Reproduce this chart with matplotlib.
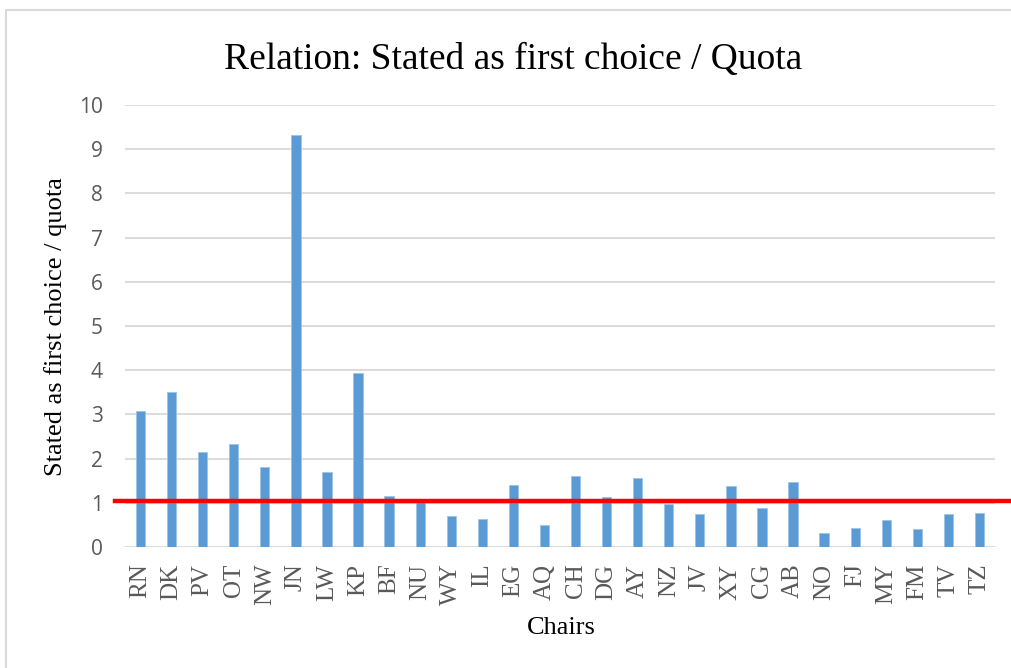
import matplotlib
matplotlib.use("Agg")
import matplotlib.pyplot as plt
from matplotlib.patches import Rectangle

chairs = ["RN", "DK", "PV", "OT", "NW", "JN", "LW", "KP", "BF", "NU", "WY", "IL",
          "EG", "AQ", "CH", "DG", "AY", "NZ", "JV", "XY", "CG", "AB", "NO", "FJ",
          "MY", "FM", "TV", "TZ"]
ratio = [3.08, 3.51, 2.16, 2.33, 1.82, 9.33, 1.69, 3.94, 1.15, 1.01, 0.71, 0.64,
         1.41, 0.50, 1.61, 1.12, 1.55, 0.97, 0.75, 1.37, 0.89, 1.48, 0.32, 0.42,
         0.60, 0.40, 0.75, 0.78]
threshold = 1.05
y_ticks = list(range(0, 11))

BAR_COLOR = "#5b9bd5"
GRID_COLOR = "#d9d9d9"
SERIF = ["Liberation Serif", "DejaVu Serif"]
SANS = ["Open Sans", "Liberation Sans", "DejaVu Sans"]

W, H = 1011, 668
fig = plt.figure(figsize=(W / 100, H / 100), dpi=100)
ax = fig.add_axes([125 / W, 1 - 547 / H, 870 / W, (547 - 105) / H])

positions = range(len(chairs))
ax.bar(positions, ratio, width=0.3, color=BAR_COLOR, edgecolor="#9dc3e6",
       linewidth=0.6, zorder=2)
ax.set_xlim(-0.5, len(chairs) - 0.5)
ax.set_ylim(0, 10)
ax.set_yticks(y_ticks)
ax.set_yticklabels([str(t) for t in y_ticks], family=SANS, fontsize=15,
                   color="#595959")
ax.set_xticks(list(positions))
ax.set_xticklabels(chairs, rotation=90, family=SERIF, fontsize=18,
                   color="#595959")
ax.tick_params(axis="y", length=0, pad=16)
ax.tick_params(axis="x", length=0, pad=12)
ax.grid(axis="y", color=GRID_COLOR, linewidth=1.3, zorder=0)
ax.set_axisbelow(True)
for s in ax.spines.values():
    s.set_visible(False)

# threshold line runs a little past the plot area on both sides
ax.axhline(threshold, xmin=-10 / 870, xmax=886 / 870, color="red",
           linewidth=3.2, clip_on=False, zorder=3)

fig.text(513 / W, 1 - 60 / H, "Relation: Stated as first choice / Quota",
         ha="center", va="center", family=SERIF, fontsize=27)
fig.text(56 / W, 1 - 327 / H, "Stated as first choice / quota", rotation=90,
         ha="center", va="center", family=SERIF, fontsize=19)
fig.text(561 / W, 1 - 628 / H, "Chairs", ha="center", va="center",
         family=SERIF, fontsize=19)

fig.patches.append(Rectangle((6 / W, -0.1), 1.2, 1.1 - 10 / H, fill=False,
                             edgecolor=GRID_COLOR, linewidth=1.5,
                             transform=fig.transFigure, figure=fig))

fig.savefig("out.png", dpi=100)
